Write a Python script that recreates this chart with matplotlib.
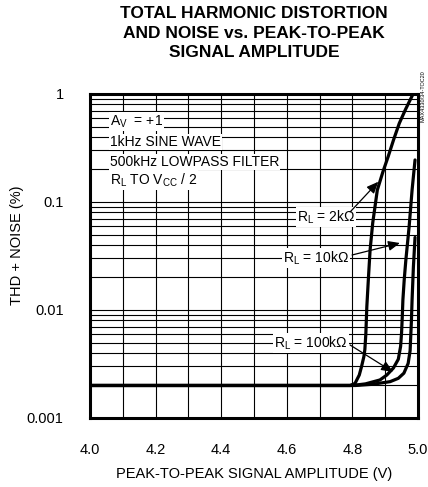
import matplotlib
matplotlib.use('Agg')
import matplotlib.pyplot as plt
from matplotlib.ticker import LogLocator, FixedLocator, NullFormatter

# font setup - narrow sans like the datasheet
plt.rcParams['font.family'] = ['Liberation Sans Narrow', 'Liberation Sans', 'DejaVu Sans']
plt.rcParams['mathtext.fontset'] = 'custom'
plt.rcParams['mathtext.rm'] = 'Liberation Sans'

# curve data (x in V, y in %)
x_2k = [4.0, 4.793, 4.808, 4.821, 4.828, 4.835, 4.838, 4.841, 4.844, 4.849,
        4.854, 4.862, 4.876, 4.893, 4.909, 4.926, 4.943, 4.962, 4.985]
y_2k = [0.002, 0.002, 0.00209, 0.0025, 0.003, 0.0037, 0.0043, 0.006, 0.0107, 0.02,
        0.036, 0.064, 0.129, 0.19, 0.263, 0.38, 0.535, 0.72, 1.0]

x_10k = [4.0, 4.80, 4.84, 4.884, 4.905, 4.925, 4.940, 4.947, 4.950, 4.952,
         4.954, 4.958, 4.963, 4.973, 4.982, 4.991]
y_10k = [0.002, 0.002, 0.00207, 0.00225, 0.0025, 0.0029, 0.0035, 0.0046, 0.0062, 0.0085,
         0.0124, 0.019, 0.029, 0.059, 0.129, 0.245]

x_100k = [4.0, 4.81, 4.86, 4.915, 4.94, 4.957, 4.970, 4.976, 4.980, 4.982, 4.986, 4.991]
y_100k = [0.002, 0.002, 0.00205, 0.00217, 0.00233, 0.0026, 0.0032, 0.0042, 0.008, 0.0124, 0.025, 0.047]

x_ticks = [4.0, 4.2, 4.4, 4.6, 4.8, 5.0]
x_ticklabels = ['4.0', '4.2', '4.4', '4.6', '4.8', '5.0']
y_ticks = [0.001, 0.01, 0.1, 1]
y_ticklabels = ['0.001', '0.01', '0.1', '1']

conditions = [r'A$_{\rm V}$  = +1', '1kHz SINE WAVE', '500kHz LOWPASS FILTER',
              r'R$_{\rm L}$ TO V$_{\rm CC}$ / 2']
conditions_y = [0.554, 0.362, 0.236, 0.16]

fig = plt.figure(figsize=(4.28, 4.87), dpi=100)
ax = fig.add_axes([0.2103, 0.1417, 0.7663, 0.6653])

ax.set_xscale('linear')
ax.set_yscale('log')
ax.set_xlim(4.0, 5.0)
ax.set_ylim(0.001, 1)

# grid: vertical every 0.1 V, horizontal at every log minor
ax.xaxis.set_minor_locator(FixedLocator([4.0 + 0.1 * i for i in range(11)]))
ax.yaxis.set_minor_locator(LogLocator(base=10, subs=range(2, 10)))
ax.yaxis.set_minor_formatter(NullFormatter())
ax.grid(which='both', color='black', linewidth=0.8)
ax.set_axisbelow(True)

ax.set_xticks(x_ticks)
ax.set_xticklabels(x_ticklabels)
ax.set_yticks(y_ticks)
ax.set_yticklabels(y_ticklabels)
ax.tick_params(which='both', length=0, labelsize=10.5)
ax.tick_params(axis='x', pad=18)
ax.tick_params(axis='y', pad=19)

for s in ax.spines.values():
    s.set_linewidth(2.2)

# curves
for xs, ys in [(x_2k, y_2k), (x_10k, y_10k), (x_100k, y_100k)]:
    ax.plot(xs, ys, color='black', linewidth=2.3, solid_joinstyle='round',
            solid_capstyle='round', zorder=3)

# test conditions block
for txt, yy in zip(conditions, conditions_y):
    ax.text(4.06, yy, txt, ha='left', va='center', fontsize=10,
            bbox=dict(fc='white', ec='none', pad=0.8), zorder=4)

# curve labels with arrows
labels = [(r'R$_{\rm L}$ = 2kΩ', 4.72, 0.0726, 4.793, 0.0808, 4.879, 0.154),
          (r'R$_{\rm L}$ = 10kΩ', 4.689, 0.0303, 4.799, 0.0323, 4.945, 0.0417),
          (r'R$_{\rm L}$ = 100kΩ', 4.674, 0.00494, 4.793, 0.00474, 4.924, 0.00267)]
for txt, tx, ty, sx, sy, hx, hy in labels:
    ax.text(tx, ty, txt, ha='center', va='center', fontsize=10,
            bbox=dict(fc='white', ec='none', pad=0.8), zorder=4)
    ax.annotate('', xy=(hx, hy), xytext=(sx, sy),
                arrowprops=dict(arrowstyle='-|>,head_length=0.7,head_width=0.3',
                                color='black', lw=0.9, shrinkA=0, shrinkB=0),
                zorder=5)

ax.set_xlabel('PEAK-TO-PEAK SIGNAL AMPLITUDE (V)', fontsize=10.5, labelpad=7)
fig.text(0.04, 0.497, 'THD + NOISE (%)', rotation=90, ha='center', va='center',
         fontsize=10.5)

fig.text(0.593, 0.988, 'TOTAL HARMONIC DISTORTION\nAND NOISE vs. PEAK-TO-PEAK\nSIGNAL AMPLITUDE',
         ha='center', va='top', fontsize=12.5, fontweight='bold', linespacing=1.4)

fig.text(0.988, 0.75, 'MAX4330/34-TOC20', rotation=90, ha='center', va='bottom',
         fontsize=4)

fig.savefig('out.png', dpi=100)
